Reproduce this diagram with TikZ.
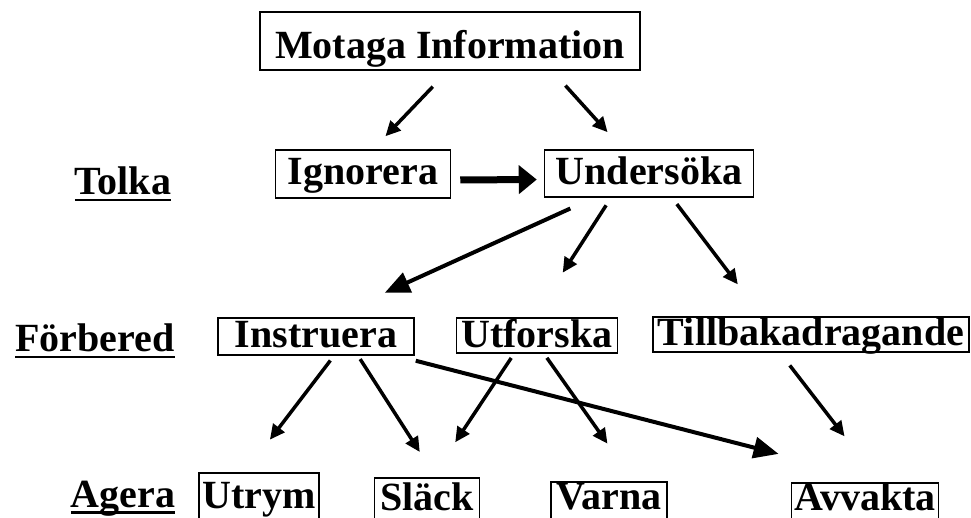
\documentclass[tikz,border=0pt]{standalone}
\usepackage{fontspec}
\setmainfont{Liberation Serif}
\usetikzlibrary{arrows.meta}
\newcommand{\lvlul}[1]{\setbox0\hbox{#1}\rlap{\rule[-6.5pt]{\wd0}{2.5pt}}\box0}

\begin{document}
\begin{tikzpicture}[x=1pt,y=-1pt,font=\fontsize{40}{48}\selectfont\bfseries]
    %
    % `box' is used for all the framed steps.
    % `arr' is the normal arrow, `bigarr' and `fatarr' the heavier ones.
    % `lvl' is used for the underlined level names on the left.
    \tikzstyle{box} = [draw,line width=1.5pt,inner sep=0pt,anchor=base]
    \tikzstyle{arr} = [line width=3.5pt,-{Triangle[length=15pt,width=14pt]}]
    \tikzstyle{bigarr} = [line width=4pt,-{Triangle[length=25pt,width=21pt]}]
    \tikzstyle{fatarr} = [line width=7pt,-{Triangle[length=18pt,width=28pt]}]
    \tikzstyle{lvl} = [inner sep=0pt,anchor=base]
    %
    \useasboundingbox (0,0) rectangle (971,518);
    \clip (0,0) rectangle (971,518);
    %
    % Level names
    \node[lvl] (tolka) at (123,195) {\lvlul{Tolka}};
    \node[lvl] (forb) at (95,352) {\lvlul{Förbered}};
    \node[lvl] (agera) at (123,507) {\lvlul{Agera}};
    %
    % Row 1
    \node[box,minimum width=380pt,text height=47pt,text depth=11pt] (mot) at (450,59) {Motaga Information};
    %
    % Row 2
    \node[box,minimum width=175pt,text height=35pt,text depth=13pt] (ign) at (363,185) {Ignorera};
    \node[box,minimum width=209pt,text height=35pt,text depth=12pt] (und) at (649,185) {Undersöka};
    %
    % Row 3
    \node[box,minimum width=196pt,text height=29pt,text depth=8pt] (inst) at (316,347) {Instruera};
    \node[box,minimum width=161pt,text height=29pt,text depth=6pt] (utf) at (537,347) {Utforska};
    \node[box,minimum width=316pt,text height=28pt,text depth=7pt] (till) at (811,345) {Tillbakadragande};
    %
    % Row 4
    \node[box,minimum width=120pt,text height=35pt,text depth=20pt] (utrym) at (259,508) {Utrym};
    \node[box,minimum width=105pt,text height=32pt,text depth=20pt] (slack) at (427,510) {Släck};
    \node[box,minimum width=116pt,text height=27pt,text depth=20pt] (varna) at (609,509) {Varna};
    \node[box,minimum width=147pt,text height=27pt,text depth=20pt] (avv) at (865,510) {Avvakta};
    %
    % Arrows from the top
    \draw[arr,shorten <=22pt,shorten >=18pt] ([xshift=-2pt]mot.south) -- ([xshift=10pt]ign.north);
    \draw[arr,shorten <=20pt,shorten >=23pt] ([xshift=102pt]mot.south) -- ([xshift=-26pt]und.north);
    \draw[fatarr,shorten <=9pt,shorten >=7pt] ([yshift=-6pt]ign.east) -- ([yshift=-6pt]und.west);
    %
    % Arrows from Undersöka
    \draw[bigarr,shorten <=26pt,shorten >=59pt] ([xshift=-55pt]und.south) -- ([xshift=15pt]inst.north);
    \draw[arr,shorten <=9pt,shorten >=53pt] ([xshift=-38pt]und.south) -- ([xshift=-3pt]utf.north);
    \draw[arr,shorten <=8pt,shorten >=40pt] ([xshift=23pt]und.south) -- ([xshift=-49pt]till.north);
    %
    % Arrows to the last row
    \draw[arr,shorten <=6pt,shorten >=41pt] ([xshift=18pt]inst.south) -- ([xshift=-14pt]utrym.north);
    \draw[arr,shorten <=4pt,shorten >=30pt] ([xshift=42pt]inst.south) -- ([xshift=9pt]slack.north);
    \draw[bigarr,shorten >=114pt] ([xshift=1pt,yshift=-5pt]inst.south east) -- ([xshift=24pt]avv.north);
    \draw[arr,shorten <=5pt,shorten >=42pt] ([xshift=-23pt]utf.south) -- ([xshift=5pt]slack.north);
    \draw[arr,shorten <=5pt,shorten >=46pt] ([xshift=7pt]utf.south) -- ([xshift=25pt]varna.north);
    \draw[arr,shorten <=16pt,shorten >=58pt] ([xshift=-31pt]till.south) -- ([xshift=15pt]avv.north);
    %
\end{tikzpicture}
\end{document}
